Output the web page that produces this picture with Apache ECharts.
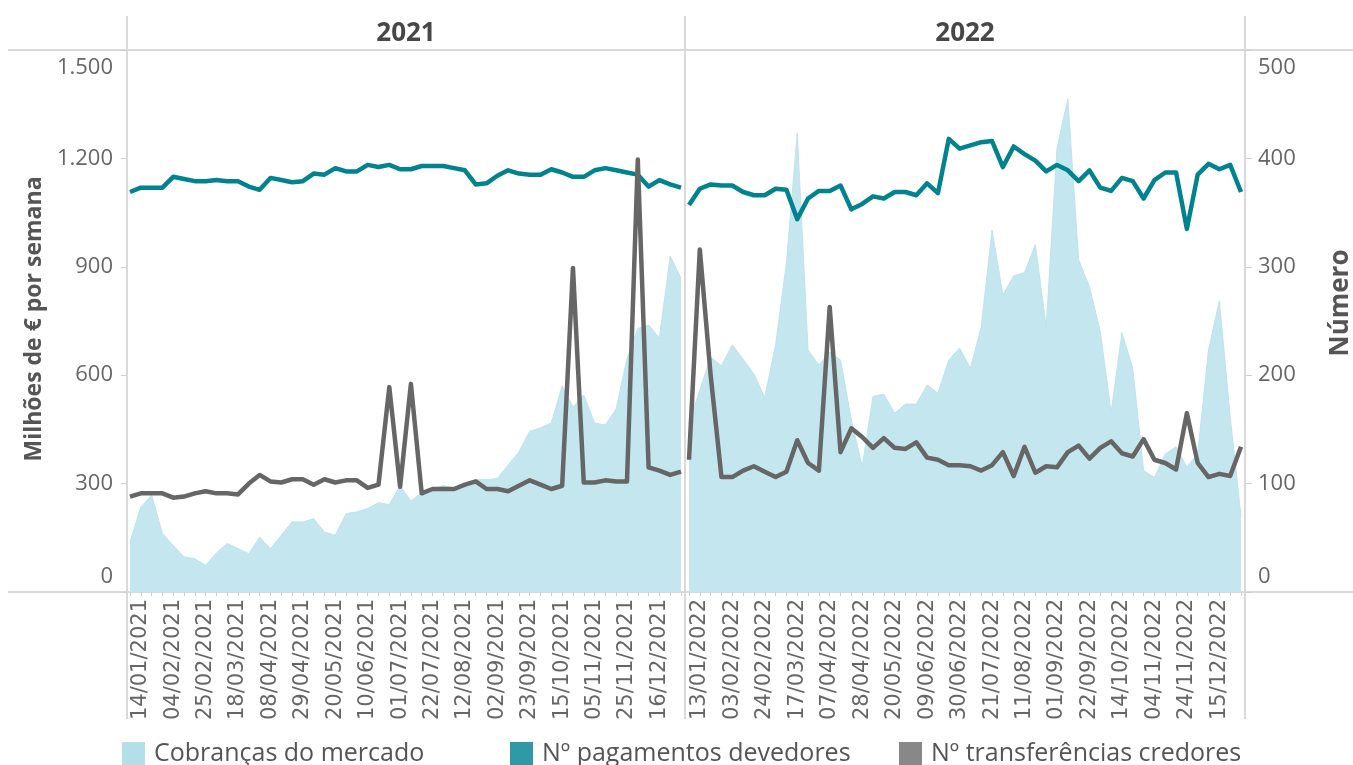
<!DOCTYPE html>
<html>
<head>
<meta charset="utf-8">
<script src="https://cdn.jsdelivr.net/npm/echarts@6/dist/echarts.min.js"></script>
<style>
  html, body { margin: 0; padding: 0; background: #ffffff; }
  #chart { width: 1353px; height: 765px; }
</style>
</head>
<body>
<div id="chart"></div>
<script>
// Weekly reference dates for each year
const weeks2021 = [
  '07/01/2021','14/01/2021','21/01/2021','28/01/2021','04/02/2021','11/02/2021','18/02/2021','25/02/2021',
  '04/03/2021','11/03/2021','18/03/2021','25/03/2021','01/04/2021','08/04/2021','15/04/2021','22/04/2021',
  '29/04/2021','06/05/2021','13/05/2021','20/05/2021','27/05/2021','03/06/2021','10/06/2021','17/06/2021',
  '24/06/2021','01/07/2021','08/07/2021','15/07/2021','22/07/2021','29/07/2021','05/08/2021','12/08/2021',
  '19/08/2021','26/08/2021','02/09/2021','09/09/2021','16/09/2021','23/09/2021','30/09/2021','07/10/2021',
  '15/10/2021','22/10/2021','29/10/2021','05/11/2021','11/11/2021','18/11/2021','25/11/2021','02/12/2021',
  '09/12/2021','16/12/2021','23/12/2021','30/12/2021'
];
const weeks2022 = [
  '06/01/2022','13/01/2022','20/01/2022','27/01/2022','03/02/2022','10/02/2022','17/02/2022','24/02/2022',
  '03/03/2022','10/03/2022','17/03/2022','24/03/2022','31/03/2022','07/04/2022','14/04/2022','21/04/2022',
  '28/04/2022','05/05/2022','12/05/2022','20/05/2022','26/05/2022','02/06/2022','09/06/2022','16/06/2022',
  '23/06/2022','30/06/2022','07/07/2022','14/07/2022','21/07/2022','28/07/2022','04/08/2022','11/08/2022',
  '18/08/2022','25/08/2022','01/09/2022','08/09/2022','15/09/2022','22/09/2022','29/09/2022','07/10/2022',
  '14/10/2022','21/10/2022','28/10/2022','04/11/2022','10/11/2022','17/11/2022','24/11/2022','01/12/2022',
  '07/12/2022','15/12/2022','22/12/2022','29/12/2022'
];

// Cobranças do mercado (milhões de € por semana)
const cobrancas2021 = [139,235,268,162,129,97,92,74,108,134,120,106,152,120,157,194,194,203,166,157,
  217,222,231,247,242,294,252,274,283,295,286,298,311,311,314,351,388,445,454,468,
  570,512,545,468,462,508,646,729,739,702,930,869];
const cobrancas2022 = [467,559,650,626,684,644,603,539,684,911,1270,670,628,664,642,476,347,541,548,495,
  520,520,573,550,642,675,619,734,1002,822,875,884,962,734,1228,1365,919,845,721,496,
  718,619,336,317,382,402,345,384,670,806,485,209];

// Nº pagamentos devedores (número)
const pagamentos2021 = [369,373,373,373,383,381,379,379,380,379,379,374,371,382,380,378,379,386,385,391,
  388,388,394,392,394,390,390,393,393,393,391,389,376,377,384,389,386,385,385,390,
  387,383,383,389,391,389,387,385,374,380,376,373];
const pagamentos2022 = [357,372,376,375,375,369,366,366,372,371,344,363,370,370,375,353,358,365,363,369,
  369,366,377,368,418,409,412,415,416,392,411,404,398,388,394,389,379,389,373,370,
  382,379,363,380,387,387,335,385,395,390,394,369];

// Nº transferências credores (número)
const transferencias2021 = [88,91,91,91,87,88,91,93,91,91,90,100,108,102,101,104,104,99,104,101,
  103,103,96,99,189,97,192,91,95,95,95,99,102,95,95,93,98,103,99,95,
  98,299,101,101,103,102,102,399,115,112,108,111];
const transferencias2022 = [122,316,200,106,106,112,116,111,106,111,140,119,112,263,129,151,143,133,142,133,
  132,138,124,122,117,117,116,112,117,129,107,134,110,116,115,129,135,123,133,139,
  128,125,141,122,119,113,165,119,106,109,107,134];

const years = ['2021', '2022'];
const valueTicks = [0, 300, 600, 900, 1200, 1500];
const countTicks = [0, 100, 200, 300, 400, 500];

const NAME_AREA = 'Cobranças do mercado';
const NAME_PAG = 'Nº pagamentos devedores';
const NAME_TRF = 'Nº transferências credores';

const COLOR_AREA = '#c4e6ee';
const COLOR_PAG = '#00838f';
const COLOR_TRF = '#666666';
const BORDER = '#d9d9d9';
const NUM_FONT = 'Open Sans';

function thousands(v) {
  return String(v).replace(/\B(?=(\d{3})+(?!\d))/g, '.');
}

// End labels sit inside the pane: top one pushed down, bottom one pushed up
function endLabel(maxV) {
  return function (v) {
    const s = thousands(v);
    if (v === maxV) return '{top|' + s + '}';
    if (v === 0) return '{bot|' + s + '}';
    return '{mid|' + s + '}';
  };
}
const tickRich = {
  top: { fontSize: 22, fontFamily: NUM_FONT, color: '#666', padding: [36, 0, 0, 0] },
  bot: { fontSize: 22, fontFamily: NUM_FONT, color: '#666', padding: [0, 0, 30, 0] },
  mid: { fontSize: 22, fontFamily: NUM_FONT, color: '#666' }
};

function xAxisFor(i, data) {
  return {
    type: 'category', gridIndex: i, data: data, boundaryGap: false,
    axisLine: { show: false },
    axisTick: { show: true, interval: 0, length: 4, lineStyle: { color: '#cfcfcf', width: 1 } },
    axisLabel: {
      interval: function (idx) { return idx % 3 === 1; },
      rotate: 90, margin: 7,
      fontFamily: 'DejaVu Sans', fontSize: 21, color: '#666'
    },
    splitLine: { show: false }
  };
}

const chart = echarts.init(document.getElementById('chart'), null, { renderer: 'canvas' });

const titleStyle = function (text, size) {
  return {
    text: text, font: 'bold ' + size + 'px "Open Sans"', fill: '#555',
    textAlign: 'center', textVerticalAlign: 'middle', align: 'center', verticalAlign: 'middle'
  };
};

const option = {
  animation: false,
  backgroundColor: '#ffffff',
  textStyle: { fontFamily: NUM_FONT },
  grid: [
    { left: 130, top: 50, width: 551, height: 542 },
    { left: 689, top: 50, width: 552, height: 542 }
  ],
  xAxis: [xAxisFor(0, weeks2021), xAxisFor(1, weeks2022)],
  yAxis: [
    {
      type: 'value', gridIndex: 0, position: 'left', offset: 3,
      min: valueTicks[0], max: valueTicks[valueTicks.length - 1], interval: valueTicks[1] - valueTicks[0],
      axisLine: { show: false },
      axisTick: { show: true, length: 6, lineStyle: { color: '#cfcfcf', width: 1 } },
      splitLine: { show: false },
      axisLabel: { margin: 14, formatter: endLabel(1500), rich: tickRich, fontSize: 22, color: '#666' }
    },
    {
      type: 'value', gridIndex: 0, position: 'right', show: false,
      min: countTicks[0], max: countTicks[countTicks.length - 1], splitLine: { show: false }
    },
    {
      type: 'value', gridIndex: 1, position: 'left', show: false,
      min: valueTicks[0], max: valueTicks[valueTicks.length - 1], splitLine: { show: false }
    },
    {
      type: 'value', gridIndex: 1, position: 'right', offset: 4,
      min: countTicks[0], max: countTicks[countTicks.length - 1], interval: countTicks[1] - countTicks[0],
      axisLine: { show: false },
      axisTick: { show: true, length: 7, lineStyle: { color: '#cfcfcf', width: 1 } },
      splitLine: { show: false },
      axisLabel: { margin: 13, formatter: endLabel(500), rich: tickRich, fontSize: 22, color: '#666' }
    }
  ],
  legend: [
    { name: NAME_AREA, left: 122, color: '#b4dfe9' },
    { name: NAME_PAG, left: 510, color: '#2f9aa5' },
    { name: NAME_TRF, left: 899, color: '#888888' }
  ].map(function (l) {
    return {
      left: l.left, top: 741, orient: 'horizontal', padding: 0,
      icon: 'rect', itemWidth: 23, itemHeight: 23, itemGap: 0,
      selectedMode: false,
      itemStyle: { borderWidth: 0 },
      data: [{ name: l.name, itemStyle: { color: l.color, borderWidth: 0 } }],
      textStyle: { fontFamily: 'Open Sans', fontSize: 25, color: '#555', padding: [2, 0, 0, 4] }
    };
  }),
  graphic: [
    // panel frame
    { type: 'line', silent: true, shape: { x1: 8, y1: 50, x2: 1353, y2: 50 }, style: { stroke: BORDER, lineWidth: 2 } },
    { type: 'line', silent: true, shape: { x1: 8, y1: 592, x2: 1353, y2: 592 }, style: { stroke: BORDER, lineWidth: 2 } },
    { type: 'line', silent: true, shape: { x1: 127, y1: 16, x2: 127, y2: 719 }, style: { stroke: BORDER, lineWidth: 2 } },
    { type: 'line', silent: true, shape: { x1: 685, y1: 16, x2: 685, y2: 719 }, style: { stroke: BORDER, lineWidth: 2 } },
    { type: 'line', silent: true, shape: { x1: 1245, y1: 16, x2: 1245, y2: 719 }, style: { stroke: BORDER, lineWidth: 2 } },
    // year headers
    { type: 'text', silent: true, x: 406, y: 34, style: Object.assign(titleStyle(years[0], 26), { fill: '#474747' }) },
    { type: 'text', silent: true, x: 965, y: 34, style: Object.assign(titleStyle(years[1], 26), { fill: '#474747' }) },
    // axis titles
    { type: 'text', silent: true, x: 34, y: 319, rotation: Math.PI / 2, style: titleStyle('Milhões de € por semana', 23) },
    { type: 'text', silent: true, x: 1341, y: 303, rotation: Math.PI / 2, style: titleStyle('Número', 26) }
  ],
  series: [
    { name: NAME_AREA, type: 'line', xAxisIndex: 0, yAxisIndex: 0, data: cobrancas2021, z: 1,
      symbol: 'none', lineStyle: { width: 1, color: '#bfe3ec' }, itemStyle: { color: COLOR_AREA },
      areaStyle: { color: COLOR_AREA, opacity: 1 } },
    { name: NAME_AREA, type: 'line', xAxisIndex: 1, yAxisIndex: 2, data: cobrancas2022, z: 1,
      symbol: 'none', lineStyle: { width: 1, color: '#bfe3ec' }, itemStyle: { color: COLOR_AREA },
      areaStyle: { color: COLOR_AREA, opacity: 1 } },
    { name: NAME_PAG, type: 'line', xAxisIndex: 0, yAxisIndex: 1, data: pagamentos2021, z: 3,
      symbol: 'none', lineStyle: { width: 4.5, color: COLOR_PAG, join: 'round' }, itemStyle: { color: COLOR_PAG } },
    { name: NAME_PAG, type: 'line', xAxisIndex: 1, yAxisIndex: 3, data: pagamentos2022, z: 3,
      symbol: 'none', lineStyle: { width: 4.5, color: COLOR_PAG, join: 'round' }, itemStyle: { color: COLOR_PAG } },
    { name: NAME_TRF, type: 'line', xAxisIndex: 0, yAxisIndex: 1, data: transferencias2021, z: 4,
      symbol: 'none', lineStyle: { width: 4.5, color: COLOR_TRF, join: 'round' }, itemStyle: { color: COLOR_TRF } },
    { name: NAME_TRF, type: 'line', xAxisIndex: 1, yAxisIndex: 3, data: transferencias2022, z: 4,
      symbol: 'none', lineStyle: { width: 4.5, color: COLOR_TRF, join: 'round' }, itemStyle: { color: COLOR_TRF } }
  ]
};

chart.setOption(option);
</script>
</body>
</html>
